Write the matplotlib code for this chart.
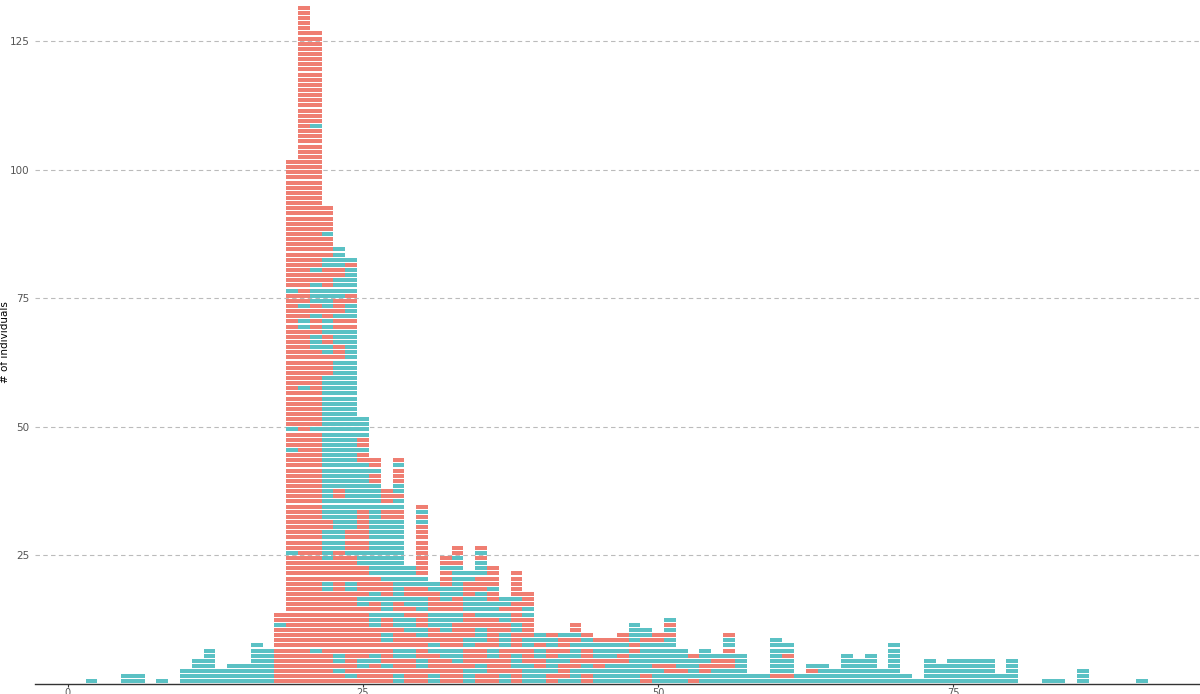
import re
import matplotlib.pyplot as plt

# age -> stacked individuals bottom to top, run-length coded (R = red group, T = teal group)
ages = [2, 5, 6, 8, 10, 11, 12, 13, 14, 15, 16, 17, 18,
        19, 20, 21, 22, 23, 24, 25, 26, 27, 28, 29, 30,
        31, 32, 33, 34, 35, 36, 37, 38, 39, 40, 41, 42,
        43, 44, 45, 46, 47, 48, 49, 50, 51, 52, 53, 54,
        55, 56, 57, 58, 59, 60, 61, 62, 63, 64, 65, 66,
        67, 68, 69, 70, 71, 72, 73, 74, 75, 76, 77, 78,
        79, 80, 83, 84, 86, 91]
stacks = ["1T", "2T", "2T", "1T", "3T", "5T", "7T", "3T", "4T", "4T", "8T", "7T", "11R1T2R",
          "25R1T19R1T3R1T26R1T25R",
          "57R1T11R2T2R1T58R",
          "6R1T42R1T15R3T3R1T2R4T2R1T27R1T18R",
          "18R2T4R6T2R28T4R2T2R3T2R4T4R2T4R1T5R",
          "2R1T1R2T20R10T2R25T3R3T2R1T3R4T2R4T",
          "1R1T16R2T5R1T4R39T2R3T2R5T1R1T",
          "3R2T10R2T6R3T8R9T2R1T2R4T",
          "4R2T5R3T2R2T3R18T2R1T2R",
          "3R1T4R2T3R4T3R12T2R1T3R",
          "2T3R2T4R3T2R16T2R2T1R2T3R1T1R",
          "5R2T3R3T2R2T2R4T",
          "3R2T4R2T3R3T2R2T10R1T1R1T1R",
          "2T4R2T3R3T4R2T", "5R2T3R4T2R3T3R1T2R", "4R3T5R2T3R6T1R1T2R",
          "3T4R2T5R3T3R2T", "2R2T4R3T2R5T3R3T1R1T1R", "5R2T6R3T2R1T4R",
          "2T5R3T2R2T1R2T", "3R3T4R2T4R1T5R", "4T3R2T4R2T3R",
          "3T2R2T1R2T", "2R3T2R2T1R", "1T3R2T3R1T",
          "3T2R3T1R1T2R", "2R2T3R2T1R", "3T2R3T1R", "4T1R3T1R",
          "4T2R2T2R", "6T2R4T", "2R6T1R2T", "3T1R4T2R", "2T2R5T1R1T1R1T",
          "2T1R4T", "1R4T1R", "2T2R3T", "3T2R1T", "3T2R1T1R2T1R",
          "6T", "2T", "2T", "1T1R7T", "1T1R3T1R2T", "2T", "2T1R1T",
          "4T", "3T", "6T", "5T", "6T", "3T", "8T", "2T", "1T", "5T",
          "4T", "5T", "5T", "5T", "5T", "2T", "5T", "1T", "1T", "3T", "1T"]

colors = {"R": "#ef7e72", "T": "#5bc1c4"}

fig = plt.figure(figsize=(12, 6.94), dpi=100)
ax = fig.add_axes([0.029, 0.0144, 0.971, 0.9856])

xs, bottoms, cols = [], [], []
for age, code in zip(ages, stacks):
    level = 0
    for n, g in re.findall(r"(\d+)([RT])", code):
        for _ in range(int(n)):
            xs.append(age)
            bottoms.append(level)
            cols.append(colors[g])
            level += 1

ax.bar(xs, [0.78] * len(xs), bottom=[b + 0.11 for b in bottoms], width=1.0,
       color=cols, linewidth=0, zorder=3, antialiased=False)

ax.set_xlim(-2.8, 95.9)
ax.set_ylim(0, 133)
ax.set_xticks([0, 25, 50, 75])
ax.set_yticks([25, 50, 75, 100, 125])
ax.yaxis.grid(True, linestyle=(0, (4, 3)), color="#bbbbbb", linewidth=0.8, zorder=0)
for s in ["top", "right", "left"]:
    ax.spines[s].set_visible(False)
ax.spines["bottom"].set_color("#333333")
ax.spines["bottom"].set_linewidth(1.0)
ax.tick_params(axis="x", length=2, color="#333333", labelsize=7, labelcolor="#555555", pad=1)
ax.tick_params(axis="y", length=0, labelsize=7.5, labelcolor="#555555", pad=4)
ax.set_ylabel("# of individuals", fontsize=7.5)
ax.yaxis.set_label_coords(-0.021, 0.5)

fig.savefig("out.png", dpi=100)
